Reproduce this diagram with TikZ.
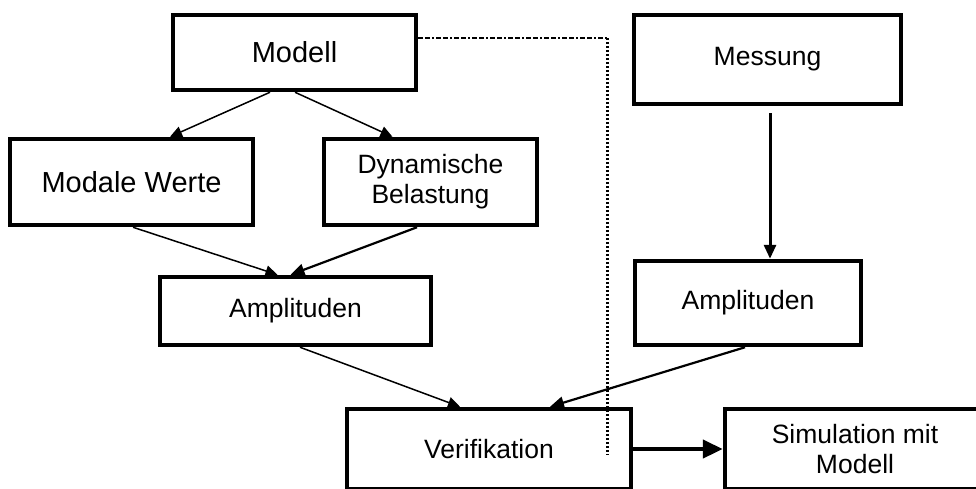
\documentclass[tikz,border=0pt]{standalone}
\usepackage{fontspec}
\setmainfont{Liberation Sans}
\usetikzlibrary{arrows.meta}
\begin{document}
\begin{tikzpicture}[x=1pt,y=-1pt,
  box/.style={draw=black, line width=4.5pt, fill=white, align=center, inner sep=0pt,
    font=\fontsize{26.5}{30}\selectfont},
  bigtext/.style={font=\fontsize{29}{33}\selectfont},
  thinarr/.style={line width=1.5pt, -{Triangle[length=12pt,width=11pt]}},
  medarr/.style={line width=2.2pt, -{Triangle[length=14pt,width=12pt]}},
  thickarr/.style={line width=4.5pt, -{Triangle[length=20pt,width=18pt]}},
  dashdot/.style={line width=1.5pt, dash pattern=on 5pt off 2pt on 5pt off 2pt on 2pt off 2pt},
  dotline/.style={line width=3pt, dash pattern=on 2pt off 2pt}
]
\useasboundingbox (0,0) rectangle (976,488);
\fill[white] (0,0) rectangle (976,488);

\node[box, bigtext, minimum width=243pt, minimum height=75pt] (modell) at (294.5,52.5) {Modell};
\node[box, minimum width=267pt, minimum height=89pt] (messung) at (767.5,59.5) {Messung};
\node[box, bigtext, minimum width=243pt, minimum height=86pt] (modale) at (131.5,182) {Modale Werte};
\node[box, minimum width=213pt, minimum height=86pt] (dyn) at (430.5,182) {Dynamische\\Belastung};
\node[box, minimum width=271pt, minimum height=68pt] (ampl) at (295.5,311) {Amplituden};
\node[box, minimum width=226pt, minimum height=84pt] (ampr) at (748,303) {Amplituden};
\node[box, minimum width=284pt, minimum height=80pt] (verif) at (489,449) {Verifikation};
\node[box, minimum width=260pt, minimum height=80pt] (sim) at (855,449) {Simulation mit\\Modell};

\coordinate (dotcorner) at (607,38);
\coordinate (dotend) at (607,455);

% dotted connection
\draw[dashdot] ([yshift=14.5pt]modell.east) -- (dotcorner);
\draw[dotline] (dotcorner) -- (dotend);

% arrows
\draw[thinarr] ([xshift=-24.5pt]modell.south) -- ([xshift=38.5pt]modale.north);
\draw[thinarr] ([xshift=0.5pt]modell.south) -- ([xshift=-38pt]dyn.north);
\draw[thinarr] ([xshift=1.5pt]modale.south) -- ([xshift=-18pt]ampl.north);
\draw[medarr] ([xshift=-13.5pt]dyn.south) -- ([xshift=-5pt]ampl.north);
\draw[medarr, line width=3pt] ([xshift=2.5pt,yshift=-7pt]messung.south) -- ([xshift=22pt]ampr.north);
\draw[thinarr] ([xshift=4.5pt]ampl.south) -- ([xshift=-29pt]verif.north);
\draw[medarr] ([xshift=-3pt]ampr.south) -- ([xshift=61pt]verif.north);
\draw[thickarr] (verif.east) -- (sim.west);
\end{tikzpicture}
\end{document}
